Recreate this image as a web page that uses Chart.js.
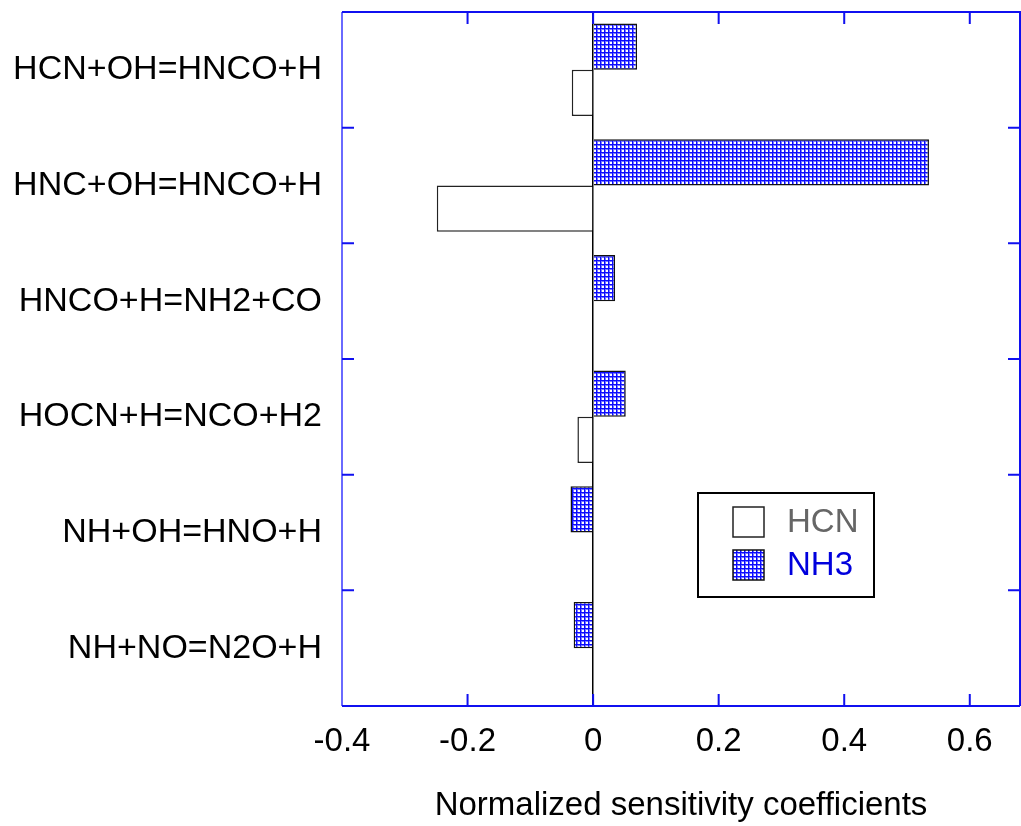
<!DOCTYPE html>
<html>
<head>
<meta charset="utf-8">
<title>Normalized sensitivity coefficients</title>
<script src="https://cdn.jsdelivr.net/npm/chart.js@4.4.1/dist/chart.umd.min.js"></script>
<style>
  html, body { margin: 0; padding: 0; background: #fff; }
  #wrap { width: 1021px; height: 826px; }
</style>
</head>
<body>
<div id="wrap"><canvas id="sensChart" width="1021" height="826"></canvas></div>
<script>
const reactions = [
    "HCN+OH=HNCO+H",
    "HNC+OH=HNCO+H",
    "HNCO+H=NH2+CO",
    "HOCN+H=NCO+H2",
    "NH+OH=HNO+H",
    "NH+NO=N2O+H"
];
const hcnValues = [-0.034, -0.249, 0, -0.025, 0, 0];
const nh3Values = [0.070, 0.535, 0.035, 0.052, -0.036, -0.031];
const xMin = -0.4;
const xMax = 0.68;
const xStep = 0.2;

const FONT = 'Arial, "Liberation Sans", sans-serif';
const FRAME_BLUE = '#1010f0';

// blue cross-hatch fill for the NH3 bars
function hatchPattern() {
    const c = document.createElement('canvas');
    c.width = 4; c.height = 4;
    const g = c.getContext('2d');
    g.fillStyle = '#ffffff';
    g.fillRect(0, 0, 4, 4);
    g.fillStyle = '#7878ff';
    g.fillRect(0, 1, 4, 1);
    g.fillRect(1, 0, 1, 4);
    g.fillStyle = '#0c0cff';
    g.fillRect(0, 0, 4, 1);
    g.fillRect(0, 0, 1, 4);
    return g.createPattern(c, 'repeat');
}
const ctx = document.getElementById('sensChart').getContext('2d');
const hatch = hatchPattern();

// blue box around the plot with inward ticks on all four sides
const frameTicks = {
    id: 'frameTicks',
    afterDraw(chart) {
        const { ctx, chartArea: a, scales: { x, y } } = chart;
        ctx.save();
        ctx.lineWidth = 2;
        ctx.strokeStyle = '#6a6aff';
        ctx.beginPath();
        ctx.moveTo(a.left, a.top); ctx.lineTo(a.left, a.bottom);
        ctx.stroke();
        ctx.strokeStyle = FRAME_BLUE;
        ctx.beginPath();
        ctx.moveTo(a.left, a.top); ctx.lineTo(a.right, a.top); ctx.lineTo(a.right, a.bottom);
        ctx.moveTo(a.left, a.bottom); ctx.lineTo(a.right, a.bottom);
        const len = 12;
        x.ticks.forEach((t, i) => {
            const px = x.getPixelForTick(i);
            if (px <= a.left + 1 || px >= a.right - 1) return;
            ctx.moveTo(px, a.top); ctx.lineTo(px, a.top + len);
            ctx.moveTo(px, a.bottom); ctx.lineTo(px, a.bottom - len);
        });
        for (let i = 0; i < reactions.length - 1; i++) {
            const py = (y.getPixelForTick(i) + y.getPixelForTick(i + 1)) / 2;
            ctx.moveTo(a.left, py); ctx.lineTo(a.left + len, py);
            ctx.moveTo(a.right, py); ctx.lineTo(a.right - len, py);
        }
        ctx.stroke();
        ctx.restore();
    }
};

// boxed legend sitting inside the plot, HCN listed first
const boxLegend = {
    id: 'boxLegend',
    afterDraw(chart) {
        const { ctx, chartArea: a } = chart;
        const items = chart.data.datasets.slice().reverse();
        const bx = a.left + 356, by = a.top + 481, bw = 176, bh = 104;
        ctx.save();
        ctx.fillStyle = '#fff';
        ctx.fillRect(bx, by, bw, bh);
        ctx.strokeStyle = '#000';
        ctx.lineWidth = 2;
        ctx.strokeRect(bx, by, bw, bh);
        ctx.font = '33px ' + FONT;
        ctx.textBaseline = 'middle';
        items.forEach((ds, i) => {
            const sy = by + 14 + i * 43;
            ctx.fillStyle = ds.backgroundColor;
            ctx.fillRect(bx + 35, sy, 31, 30);
            ctx.strokeStyle = ds.borderColor;
            ctx.lineWidth = 1.5;
            ctx.strokeRect(bx + 35, sy, 31, 30);
            ctx.fillStyle = ds.legendColor;
            ctx.fillText(ds.label, bx + 89, sy + 16);
        });
        ctx.restore();
    }
};

new Chart(ctx, {
    type: 'bar',
    data: {
        labels: reactions,
        datasets: [
            {
                label: 'NH3',
                data: nh3Values,
                backgroundColor: hatch,
                borderColor: '#111',
                borderWidth: 1.5,
                legendColor: '#0000dd'
            },
            {
                label: 'HCN',
                data: hcnValues,
                backgroundColor: '#ffffff',
                borderColor: '#222',
                borderWidth: 1.5,
                legendColor: '#666666'
            }
        ]
    },
    options: {
        indexAxis: 'y',
        responsive: false,
        animation: false,
        datasets: {
            bar: { categoryPercentage: 0.8, barPercentage: 1.0 }
        },
        layout: { padding: { top: 12, right: 1, left: 0, bottom: 0 } },
        plugins: {
            legend: { display: false },
            tooltip: { enabled: false }
        },
        scales: {
            x: {
                type: 'linear',
                min: xMin,
                max: xMax,
                afterFit: (s) => { s.height = 120; },
                border: { display: false },
                grid: {
                    drawTicks: false,
                    lineWidth: 1.5,
                    color: (c) => (c.tick && Math.abs(c.tick.value) < 1e-9 ? '#000' : 'rgba(0,0,0,0)')
                },
                ticks: {
                    stepSize: xStep,
                    includeBounds: false,
                    padding: 16,
                    color: '#000',
                    font: { family: FONT, size: 33 },
                    callback: (v) => String(Math.round(v * 10) / 10)
                },
                title: {
                    display: true,
                    text: 'Normalized sensitivity coefficients',
                    color: '#000',
                    font: { family: FONT, size: 33 },
                    padding: { top: 0, bottom: 0 }
                }
            },
            y: {
                afterFit: (s) => {
                    s.width = 342;
                    s.paddingTop = 0;
                    s.paddingBottom = 0;
                },
                border: { display: false },
                grid: { display: false, drawTicks: false },
                ticks: {
                    padding: 20,
                    color: '#000',
                    font: { family: FONT, size: 34 }
                }
            }
        }
    },
    plugins: [frameTicks, boxLegend]
});
</script>
</body>
</html>
